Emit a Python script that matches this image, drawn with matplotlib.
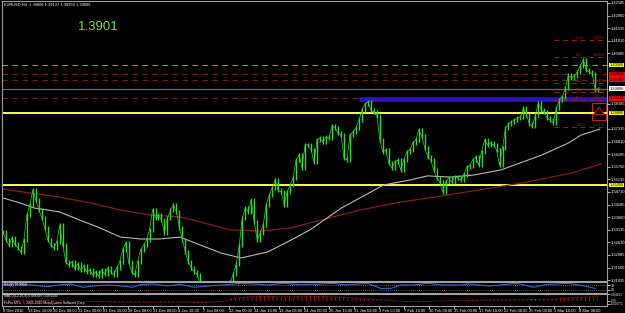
import numpy as np
import matplotlib
matplotlib.use("Agg")
import matplotlib.pyplot as plt
from matplotlib.transforms import blended_transform_factory

plt.rcParams["font.family"] = ["Liberation Sans", "DejaVu Sans"]
plt.rcParams["hatch.linewidth"] = 0.8

# EURUSD H4 closes, one value every two bars
closes = [
    1.3304, 1.3271, 1.3250, 1.3279, 1.3254, 1.3238, 1.3221, 1.3271, 1.3375, 1.3417,
    1.3479, 1.3438, 1.3396, 1.3363, 1.3321, 1.3271, 1.3250, 1.3238, 1.3263, 1.3333,
    1.3250, 1.3179, 1.3167, 1.3179, 1.3154, 1.3171, 1.3146, 1.3163, 1.3138, 1.3146,
    1.3125, 1.3138, 1.3121, 1.3146, 1.3129, 1.3154, 1.3138, 1.3125, 1.3154, 1.3179,
    1.3229, 1.3258, 1.3179, 1.3138, 1.3125, 1.3179, 1.3229, 1.3250, 1.3271, 1.3313,
    1.3396, 1.3363, 1.3375, 1.3354, 1.3300, 1.3363, 1.3396, 1.3417, 1.3388, 1.3321,
    1.3271, 1.3221, 1.3179, 1.3154, 1.3138, 1.3125, 1.3083, 1.3042, 1.3000, 1.2946,
    1.2896, 1.2875, 1.2896, 1.2929, 1.2979, 1.3042, 1.3096, 1.3129, 1.3171, 1.3250,
    1.3363, 1.3404, 1.3388, 1.3438, 1.3346, 1.3271, 1.3300, 1.3333, 1.3417, 1.3458,
    1.3488, 1.3521, 1.3479, 1.3471, 1.3417, 1.3471, 1.3500, 1.3529, 1.3604, 1.3625,
    1.3571, 1.3667, 1.3667, 1.3646, 1.3596, 1.3688, 1.3696, 1.3679, 1.3700, 1.3696,
    1.3746, 1.3738, 1.3717, 1.3708, 1.3613, 1.3604, 1.3708, 1.3721, 1.3738, 1.3771,
    1.3813, 1.3838, 1.3846, 1.3813, 1.3804, 1.3788, 1.3688, 1.3638, 1.3646, 1.3592,
    1.3571, 1.3596, 1.3604, 1.3563, 1.3604, 1.3638, 1.3646, 1.3675, 1.3688, 1.3729,
    1.3704, 1.3654, 1.3617, 1.3604, 1.3563, 1.3529, 1.3513, 1.3471, 1.3513, 1.3529,
    1.3513, 1.3533, 1.3529, 1.3521, 1.3542, 1.3575, 1.3579, 1.3604, 1.3617, 1.3583,
    1.3638, 1.3688, 1.3667, 1.3675, 1.3667, 1.3646, 1.3583, 1.3654, 1.3738, 1.3754,
    1.3763, 1.3771, 1.3779, 1.3783, 1.3821, 1.3792, 1.3754, 1.3746, 1.3792, 1.3842,
    1.3813, 1.3804, 1.3779, 1.3771, 1.3758, 1.3821, 1.3854, 1.3867, 1.3904, 1.3958,
    1.3946, 1.3954, 1.3971, 1.3996, 1.4021, 1.3979, 1.3971, 1.3963, 1.3896, 1.39006,
]
n_bars = 381

# moving averages (bar index, price)
ma_white_bars = [0, 11, 20, 36, 49, 62, 75, 88, 100, 113, 126, 139, 152, 169, 184, 196,
                 216, 243, 260, 271, 286, 301, 318, 344, 361, 369, 381]
ma_white = [1.3446, 1.3425, 1.3404, 1.3388, 1.3354, 1.3321, 1.3283, 1.3275, 1.3275, 1.3283,
            1.3250, 1.3217, 1.3196, 1.3221, 1.3271, 1.3313, 1.3404, 1.3500, 1.3521, 1.3538,
            1.3533, 1.3542, 1.3563, 1.3625, 1.3675, 1.3708, 1.3733]
ma_red_bars = [0, 17, 36, 56, 75, 94, 113, 126, 145, 164, 184, 196, 228, 254, 280, 292,
               331, 363, 382]
ma_red = [1.3483, 1.3467, 1.3450, 1.3425, 1.3396, 1.3375, 1.3367, 1.3346, 1.3313, 1.3308,
          1.3321, 1.3342, 1.3396, 1.3429, 1.3454, 1.3467, 1.3508, 1.3550, 1.3588]

# horizontal levels across the whole chart
yellow_levels = [1.3800, 1.3500]
red_dash_levels = [1.3962, 1.3938, 1.3863]
olive_level = 1.4000
bid = 1.39006
blue_start_bar = 227
blue_level = 1.3857

# Fibonacci retracement drawn on the last swing
fib_start_bar = 352
fib_names = ["-23.6", "0.0", "38.2", "50.0", "61.8", "100.0"]
fib_prices = [1.41039, 1.40352, 1.39237, 1.38891, 1.38545, 1.37430]

# right price scale
price_ticks = [1.42585, 1.42060, 1.41535, 1.41010, 1.40485, 1.38385, 1.37335, 1.36810,
               1.36285, 1.35760, 1.35235, 1.34710, 1.34185, 1.33660, 1.33135, 1.32610,
               1.32085, 1.31560, 1.31035]
tag_prices = [1.40000, 1.39620, 1.39380, 1.39006, 1.38620, 1.38000, 1.35000]
tag_colors = ["#ffff00", "#ff0000", "#ff0000", "#ffffff", "#ff0000", "#ffff00", "#ffff00"]

# date scale
date_labels = ["9 Dec 2010", "13 Dec 16:00", "16 Dec 08:00", "21 Dec 00:00", "23 Dec 16:00",
               "28 Dec 08:00", "31 Dec 00:00", "4 Jan 16:00", "7 Jan 08:00", "12 Jan 00:00",
               "14 Jan 16:00", "19 Jan 08:00", "24 Jan 00:00", "26 Jan 16:00", "31 Jan 08:00",
               "3 Feb 00:00", "7 Feb 16:00", "10 Feb 08:00", "15 Feb 00:00", "17 Feb 16:00",
               "22 Feb 08:00", "25 Feb 00:00", "1 Mar 16:00", "4 Mar 08:00"]

# RSI sub window
rsi_bars = [0, 9, 19, 28, 36, 43, 51, 60, 67, 75, 83, 88, 96, 105, 113, 122, 131, 143,
            152, 160, 169, 179, 190, 203, 211, 218, 233, 241, 248, 254, 262, 271, 280,
            293, 297, 310, 318, 328, 335, 339, 346, 361, 371, 378]
rsi_values = [73, 82, 73, 57, 73, 82, 52, 66, 73, 64, 52, 76, 82, 64, 79, 52, 64, 76,
              88, 82, 73, 88, 76, 82, 88, 73, 88, 42, 42, 73, 73, 88, 73, 73, 82, 64,
              73, 88, 64, 52, 76, 88, 64, 42]

# MACD sub window
macd_bars = [0, 12, 25, 38, 50, 62, 75, 88, 100, 113, 126, 138, 150, 156, 163, 170,
             176, 184, 190, 197, 203, 210, 218, 224, 230, 237, 245, 253, 262, 270, 280,
             290, 300, 310, 320, 330, 340, 350, 360, 370, 380]
macd_hist = [0.0005, 0.0008, 0.0006, 0.0002, -0.0004, -0.0008, -0.0010, -0.0012, -0.0013,
             -0.0010, -0.0015, -0.0008, 0.0030, 0.0042, 0.0048, 0.0046, 0.0040, 0.0044,
             0.0048, 0.0049, 0.0047, 0.0043, 0.0038, 0.0030, 0.0022, 0.0018, 0.0010,
             -0.0002, -0.0008, -0.0006, 0.0002, 0.0005, 0.0008, 0.0010, 0.0012, 0.0015,
             0.0016, 0.0018, 0.0030, 0.0040, 0.0042]

W, H = 625, 313
fig = plt.figure(figsize=(W / 100, H / 100), dpi=100, facecolor="black")


def px_axes(x0, y0, x1, y1):
    return fig.add_axes([x0 / W, 1 - y1 / H, (x1 - x0) / W, (y1 - y0) / H])


frame = "#a0a0a0"
small = 2.9
tiny = 2.4
xlim = (-0.6, 385.6)

ax = px_axes(2, 1, 607, 281)
ax.set_facecolor("black")
ax.set_xlim(*xlim)
ax.set_ylim(1.31000, 1.42667)

# horizontal lines
ax.axhline(olive_level, color="#8f9a50", lw=0.8, ls=(0, (5, 4)))
for lv in red_dash_levels:
    ax.axhline(lv, color="#7a1a1a", lw=0.8, ls=(0, (5, 4)))
ax.axhline(bid, color="#6a6a6a", lw=0.9)
for lv in yellow_levels:
    ax.axhline(lv, color="#ffff40", lw=1.4)
ax.plot([blue_start_bar, xlim[1]], [blue_level, blue_level], color="#2a10c8", lw=3.5,
        solid_capstyle="butt")

# moving averages
ax.plot(ma_red_bars, ma_red, color="#8b1c1c", lw=0.9)
ax.plot(ma_white_bars, ma_white, color="#b8b8b8", lw=0.8)

# price bars
bars = np.linspace(0, n_bars - 1, len(closes))
c = np.array(closes)
prev = np.concatenate([[c[0]], c[:-1]])
wick = 0.0007
ax.vlines(bars, np.minimum(prev, c) - wick, np.maximum(prev, c) + wick,
          colors="#2fd82f", lw=1.0)
ax.plot(bars, c, color="#2fd82f", lw=0.5)

# Fibonacci levels
for name, p in zip(fib_names, fib_prices):
    ax.plot([fib_start_bar, xlim[1]], [p, p], color="#9a1e1e", lw=0.7, ls=(0, (5, 4)))
    ax.text(fib_start_bar + 14, p, name, color="#b02020", fontsize=tiny, va="bottom")
    ax.text(xlim[1] - 1, p, "%.5f" % p, color="#b02020", fontsize=tiny,
            va="bottom", ha="right")

# buy arrow box
ax.add_patch(plt.Rectangle((376, 1.37710), 9, 0.0071, fill=False, ec="#c02020", lw=0.8))
ax.annotate("", xy=(380.5, 1.3835), xytext=(380.5, 1.3781),
            arrowprops=dict(arrowstyle="simple,head_width=0.8,tail_width=0.35",
                            fc="black", ec="#d02020", lw=0.7))

# texts
ax.text(0.004, 0.993, "EURUSD,H4  1.39006 1.39137 1.38959 1.39006", transform=ax.transAxes,
        color="white", fontsize=small, va="top")
fig.text(98 / W, 1 - 27 / H, "1.3901", color="#7ee03a", fontsize=9.5,
         ha="center", va="center")

# price axis
ax.yaxis.tick_right()
ax.set_yticks(price_ticks)
ax.set_yticklabels(["%.5f" % t for t in price_ticks])
ax.tick_params(axis="y", colors="white", labelsize=small, length=2, width=0.5, pad=1)
ax.set_xticks([])
for s in ax.spines.values():
    s.set_color(frame)
    s.set_linewidth(0.8)
tr = blended_transform_factory(ax.transAxes, ax.transData)
for p, col in zip(tag_prices, tag_colors):
    ax.text(1.0045, p, "%.5f" % p, transform=tr, color="black", fontsize=small, va="center",
            ha="left", bbox=dict(boxstyle="square,pad=0.12", fc=col, ec="none"))

# RSI window
ax2 = px_axes(2, 282, 607, 293)
ax2.set_facecolor("black")
ax2.set_xlim(*xlim)
ax2.set_ylim(0, 100)
for lv in (30, 70):
    ax2.axhline(lv, color="#808080", lw=0.6, ls=(0, (1, 1.5)))
ax2.plot(rsi_bars, rsi_values, color="#3068d0", lw=0.8)
ax2.text(0.004, 0.95, "RSI(8) 36.8958", transform=ax2.transAxes, color="white",
         fontsize=tiny, va="top")
ax2.set_xticks([])
ax2.yaxis.tick_right()
ax2.set_yticks([70, 30])
ax2.set_yticklabels(["70", "30"])
ax2.tick_params(axis="y", colors="white", labelsize=tiny, length=2, width=0.5, pad=1)
for s in ax2.spines.values():
    s.set_color(frame)
    s.set_linewidth(0.8)

# MACD window
ax3 = px_axes(2, 294, 607, 306)
ax3.set_facecolor("black")
ax3.set_xlim(*xlim)
ax3.set_ylim(-0.0050, 0.0070)
ax3.fill_between(macd_bars, 0, macd_hist, step="mid", facecolor="none",
                 edgecolor="#8a1414", hatch="||||", linewidth=0)
ax3.plot(macd_bars, macd_hist, color="#b02020", lw=0.6, ls=(0, (1, 1)))
ax3.text(0.004, 0.97, "MACD(12,26,9) 0.006497 0.005540", transform=ax3.transAxes,
         color="white", fontsize=tiny, va="top")
ax3.text(0.004, 0.45, "FxPro MT4, \u00a9 2001-2010 MetaQuotes Software Corp.",
         transform=ax3.transAxes, color="white", fontsize=tiny, va="top")
ax3.yaxis.tick_right()
ax3.set_yticks([0.0066, 0.0, -0.0027])
ax3.set_yticklabels(["0.006651", "0.00", "-0.002772"])
ax3.tick_params(axis="y", colors="white", labelsize=2.0, length=2, width=0.5, pad=1)
ax3.set_xticks(np.arange(len(date_labels)) * 16)
ax3.set_xticklabels(date_labels, ha="left")
ax3.tick_params(axis="x", colors="white", labelsize=small, length=2, width=0.5, pad=0.5)
for s in ax3.spines.values():
    s.set_color(frame)
    s.set_linewidth(0.8)

fig.savefig("out.png", dpi=100, facecolor="black")
